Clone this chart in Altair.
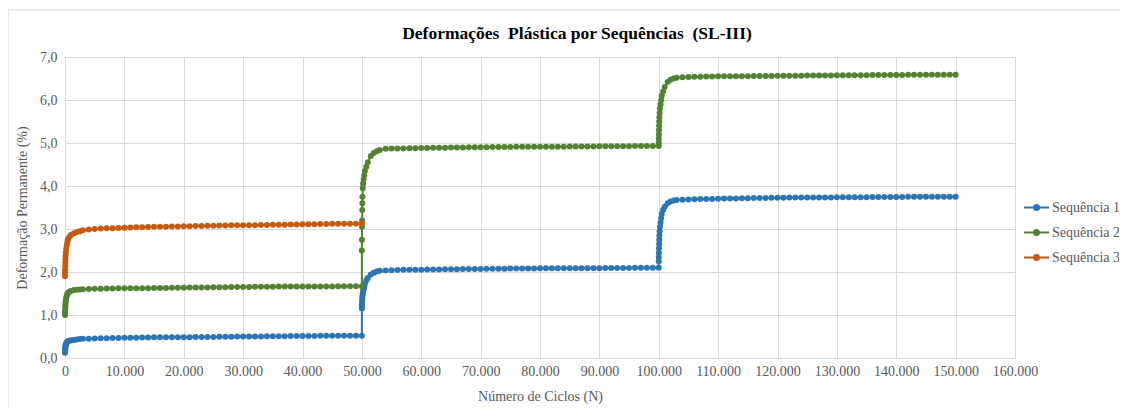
import altair as alt
import pandas as pd

# Relative cycle offsets inside each loading stage (same sampling for every stage)
ciclos_rel = [0, 10, 20, 40, 60, 80, 100, 150, 200, 300, 400, 500, 750, 1000,
              1500, 2000, 2500, 3000,
              4000, 5000, 6000, 7000, 8000, 9000, 10000, 11000, 12000, 13000,
              14000, 15000, 16000, 17000, 18000, 19000, 20000, 21000, 22000, 23000,
              24000, 25000, 26000, 27000, 28000, 29000, 30000, 31000, 32000, 33000,
              34000, 35000, 36000, 37000, 38000, 39000, 40000, 41000, 42000, 43000,
              44000, 45000, 46000, 47000, 48000, 49000, 50000]

# Sequência 1 – three stages (0, 50.000, 100.000)
seq1_est1 = [0.12, 0.15, 0.18, 0.21, 0.24, 0.27, 0.30, 0.32, 0.34, 0.36, 0.38, 0.39, 0.40, 0.41,
             0.42, 0.43, 0.44, 0.445,
             0.45, 0.455, 0.46, 0.46, 0.465, 0.465, 0.47, 0.47, 0.47, 0.475,
             0.475, 0.48, 0.48, 0.48, 0.48, 0.485, 0.485, 0.485, 0.49, 0.49,
             0.49, 0.49, 0.495, 0.495, 0.495, 0.50, 0.50, 0.50, 0.50, 0.50,
             0.505, 0.505, 0.505, 0.505, 0.51, 0.51, 0.51, 0.51, 0.51, 0.515,
             0.515, 0.515, 0.515, 0.52, 0.52, 0.52, 0.52]
seq1_est2 = [1.15, 1.20, 1.25, 1.30, 1.35, 1.40, 1.45, 1.50, 1.55, 1.60, 1.65, 1.72, 1.80, 1.86,
             1.94, 1.98, 2.01, 2.03,
             2.035, 2.04, 2.045, 2.05, 2.05, 2.055, 2.055, 2.06, 2.06, 2.06,
             2.065, 2.065, 2.065, 2.07, 2.07, 2.07, 2.07, 2.075, 2.075, 2.075,
             2.075, 2.08, 2.08, 2.08, 2.08, 2.08, 2.085, 2.085, 2.085, 2.085,
             2.085, 2.09, 2.09, 2.09, 2.09, 2.09, 2.09, 2.095, 2.095, 2.095,
             2.095, 2.095, 2.10, 2.10, 2.10, 2.10, 2.10]
seq1_est3 = [2.25, 2.35, 2.45, 2.55, 2.65, 2.75, 2.85, 2.95, 3.05, 3.15, 3.25, 3.35, 3.45, 3.52,
             3.60, 3.64, 3.66, 3.675,
             3.68, 3.685, 3.69, 3.695, 3.70, 3.70, 3.705, 3.71, 3.71, 3.71,
             3.715, 3.715, 3.72, 3.72, 3.72, 3.725, 3.725, 3.725, 3.73, 3.73,
             3.73, 3.73, 3.735, 3.735, 3.735, 3.735, 3.74, 3.74, 3.74, 3.74,
             3.74, 3.74, 3.745, 3.745, 3.745, 3.745, 3.745, 3.745, 3.75, 3.75,
             3.75, 3.75, 3.75, 3.75, 3.75, 3.75, 3.75]

# Sequência 2
seq2_est1 = [1.00, 1.05, 1.10, 1.15, 1.20, 1.25, 1.30, 1.35, 1.40, 1.45, 1.50, 1.52, 1.54, 1.56,
             1.58, 1.59, 1.595, 1.60,
             1.605, 1.61, 1.61, 1.615, 1.615, 1.62, 1.62, 1.62, 1.625, 1.625,
             1.625, 1.63, 1.63, 1.63, 1.635, 1.635, 1.635, 1.64, 1.64, 1.64,
             1.64, 1.645, 1.645, 1.645, 1.65, 1.65, 1.65, 1.65, 1.655, 1.655,
             1.655, 1.655, 1.66, 1.66, 1.66, 1.66, 1.66, 1.665, 1.665, 1.665,
             1.665, 1.665, 1.67, 1.67, 1.67, 1.67, 1.67]
seq2_est2 = [2.50, 2.75, 3.05, 3.20, 3.44, 3.60, 3.75, 3.95, 4.05, 4.15, 4.25, 4.35, 4.45, 4.55,
             4.70, 4.77, 4.81, 4.84,
             4.865, 4.87, 4.875, 4.875, 4.88, 4.88, 4.885, 4.885, 4.89, 4.89,
             4.89, 4.895, 4.895, 4.895, 4.90, 4.90, 4.90, 4.90, 4.905, 4.905,
             4.905, 4.905, 4.91, 4.91, 4.91, 4.91, 4.915, 4.915, 4.915, 4.915,
             4.915, 4.92, 4.92, 4.92, 4.92, 4.92, 4.925, 4.925, 4.925, 4.925,
             4.925, 4.925, 4.93, 4.93, 4.93, 4.93, 4.93]
seq2_est3 = [5.00, 5.10, 5.20, 5.30, 5.40, 5.50, 5.60, 5.70, 5.80, 5.90, 6.00, 6.10, 6.20, 6.30,
             6.42, 6.47, 6.50, 6.52,
             6.53, 6.535, 6.54, 6.54, 6.545, 6.545, 6.55, 6.55, 6.55, 6.555,
             6.555, 6.555, 6.56, 6.56, 6.56, 6.56, 6.565, 6.565, 6.565, 6.565,
             6.565, 6.57, 6.57, 6.57, 6.57, 6.57, 6.575, 6.575, 6.575, 6.575,
             6.575, 6.575, 6.58, 6.58, 6.58, 6.58, 6.58, 6.58, 6.585, 6.585,
             6.585, 6.585, 6.585, 6.59, 6.59, 6.59, 6.59]

# Sequência 3 – one stage
seq3_est1 = [1.90, 1.98, 2.06, 2.14, 2.22, 2.30, 2.38, 2.46, 2.54, 2.62, 2.70, 2.76, 2.82, 2.86,
             2.90, 2.93, 2.95, 2.97,
             2.99, 3.00, 3.01, 3.015, 3.02, 3.025, 3.03, 3.035, 3.04, 3.04,
             3.045, 3.05, 3.05, 3.055, 3.06, 3.06, 3.065, 3.065, 3.07, 3.07,
             3.075, 3.075, 3.08, 3.08, 3.085, 3.085, 3.09, 3.09, 3.09, 3.095,
             3.095, 3.10, 3.10, 3.10, 3.105, 3.105, 3.11, 3.11, 3.11, 3.115,
             3.115, 3.12, 3.12, 3.12, 3.125, 3.125, 3.13]

series = ["Sequência 1", "Sequência 2", "Sequência 3"]
cores = ["#2E75B6", "#548235", "#C55A11"]
inicio_estagio = [0, 50000, 100000]
titulo = "Deformações\u00a0 Plástica por Sequências\u00a0 (SL-III)"

estagios = {
    "Sequência 1": [seq1_est1, seq1_est2, seq1_est3],
    "Sequência 2": [seq2_est1, seq2_est2, seq2_est3],
    "Sequência 3": [seq3_est1],
}

x_ticks = list(range(0, 160001, 10000))
y_ticks = [0, 1, 2, 3, 4, 5, 6, 7]

rows = []
for s in series:
    ordem = 0
    for k, valores in enumerate(estagios[s]):
        for rel, v in zip(ciclos_rel, valores):
            rows.append({"serie": s, "ciclos": inicio_estagio[k] + rel, "valor": v, "ordem": ordem})
            ordem += 1
df = pd.DataFrame(rows)

FONT = "Liberation Serif"
GRID = "#D9D9D9"
TXT = "#595959"

x_enc = alt.X("ciclos:Q", scale=alt.Scale(domain=[0, 160000], nice=False),
              axis=alt.Axis(values=x_ticks, title="Número de Ciclos (N)",
                            labelExpr="replace(format(datum.value, ','), ',', '.')",
                            labelOverlap=False, labelFlush=False,
                            grid=True, domain=False, ticks=False, labelPadding=6,
                            titlePadding=11))
y_enc = alt.Y("valor:Q", scale=alt.Scale(domain=[0, 7], nice=False),
              axis=alt.Axis(values=y_ticks, title="Deformação Permanente (%)",
                            labelExpr="replace(format(datum.value, '.1f'), '.', ',')",
                            labelOverlap=False, labelFlush=False,
                            grid=True, domain=False, ticks=False, labelPadding=8,
                            titlePadding=10))

escala = alt.Scale(domain=series, range=cores)
sym = "M-1,0L1,0M0.2,0A0.2,0.2,0,1,1,-0.2,0A0.2,0.2,0,1,1,0.2,0Z"


def legenda():
    return alt.Legend(orient="none", legendX=958, legendY=137,
                      symbolType=sym, symbolSize=625, symbolStrokeWidth=2,
                      labelFont=FONT, labelFontSize=14, labelColor=TXT,
                      rowPadding=4, labelOffset=2)


linhas = alt.Chart(df).mark_line(strokeWidth=2).encode(
    x=x_enc, y=y_enc,
    stroke=alt.Stroke("serie:N", scale=escala, title=None, legend=legenda()),
    order="ordem:Q",
)
pontos = alt.Chart(df).mark_circle(size=36, opacity=1).encode(
    x=x_enc, y=y_enc,
    fill=alt.Fill("serie:N", scale=escala, title=None, legend=legenda()),
)

titulo_df = pd.DataFrame({"t": [titulo]})
texto_titulo = alt.Chart(titulo_df).mark_text(
    font=FONT, fontSize=17.5, fontWeight="bold", color="#000000",
    align="center", baseline="middle"
).encode(text="t:N", x=alt.value(512), y=alt.value(-23))

borda = alt.Chart(titulo_df).mark_rule(color=GRID, strokeWidth=1).encode(
    x=alt.value(-57), y=alt.value(-47), y2=alt.value(360)
)
borda_topo = alt.Chart(titulo_df).mark_rule(color=GRID, strokeWidth=1).encode(
    x=alt.value(-57), x2=alt.value(1060), y=alt.value(-47)
)

chart = alt.layer(borda, borda_topo, linhas, pontos, texto_titulo).properties(
    width=950, height=301,
    autosize=alt.AutoSizeParams(type="none"),
    padding={"left": 57, "top": 49, "right": 104, "bottom": 50},
    background="white",
).configure_axis(
    labelFont=FONT, labelFontSize=14, labelColor=TXT,
    titleFont=FONT, titleFontSize=14, titleColor=TXT, titleFontWeight="normal",
    gridColor=GRID, gridWidth=1,
).configure_view(stroke=None)

chart.save("out.html", embed_options={"renderer": "svg", "actions": False})
